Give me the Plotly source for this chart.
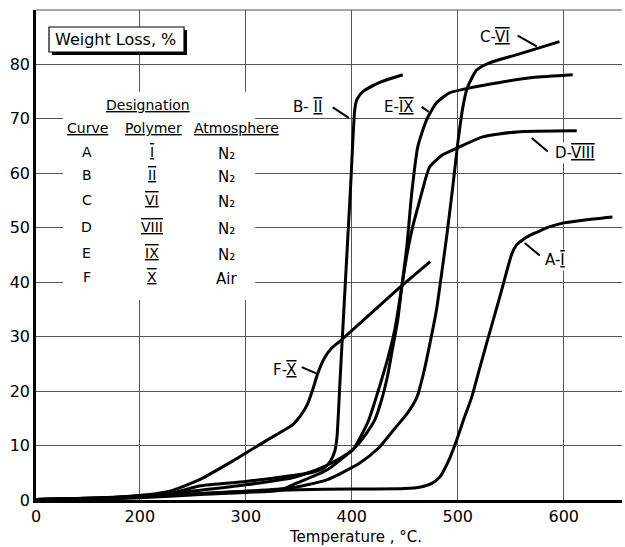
import plotly.graph_objects as go

# ---------------- data (temperature axis units, weight loss %) ----------------
A_T = [102, 150, 200, 260, 300, 350, 400, 450, 465, 475, 483, 492.5, 499, 506, 513.2, 520, 527.4, 534, 541.5, 551, 555.7, 562, 568, 577, 587, 600, 618, 646]
A_W = [0.1, 0.3, 0.6, 1.2, 1.6, 1.9, 2.0, 2.1, 2.4, 3.0, 4.2, 7.7, 11.0, 15.0, 18.9, 23.7, 28.9, 33.4, 38.6, 45.2, 46.9, 47.9, 48.6, 49.4, 50.2, 50.9, 51.4, 52.0]

B_T = [102, 150, 200, 231, 257, 300, 344, 363.2, 374, 380, 384, 386, 389, 394, 399, 402.8, 404.7, 410.4, 426.4, 448.1]
B_W = [0.1, 0.3, 0.8, 1.3, 2.6, 3.4, 4.5, 5.1, 5.9, 7.2, 9.0, 11.5, 22.3, 40.2, 58.0, 71.7, 73.5, 75.0, 76.7, 78.1]

C_T = [102, 150, 200, 257, 300, 341.5, 376.4, 407.5, 425, 440, 452, 461.3, 468, 474, 480, 484, 489.6, 495.3, 500, 504.7, 508.5, 514, 518, 530, 556, 596]
C_W = [0.1, 0.2, 0.5, 1.2, 1.6, 2.2, 3.7, 6.8, 9.5, 13.0, 15.8, 18.8, 23.5, 29.0, 35.0, 40.5, 48.5, 57.5, 65.5, 72.0, 75.4, 77.8, 79.0, 80.3, 81.8, 84.2]

D_T = [102, 150, 200, 257, 300, 344, 360.4, 380, 400.9, 408, 416, 422, 428, 434, 440.6, 447.2, 452, 457.5, 462, 466, 473.6, 485.8, 500, 523.6, 555.7, 612.3]
D_W = [0.1, 0.3, 0.6, 1.8, 2.8, 4.1, 5.1, 6.7, 9.2, 11.5, 14.7, 18.2, 22.0, 26.0, 31.3, 39.2, 45.0, 50.2, 53.5, 56.4, 61.2, 63.4, 64.7, 66.7, 67.6, 67.8]

E_T = [102, 150, 200, 257, 300, 332, 344.3, 376.4, 402.8, 414, 421.7, 428.3, 434, 437.7, 443.4, 447.2, 451.9, 456.6, 462.3, 470.8, 480.2, 492.5, 511.3, 539.6, 570.8, 608.5]
E_W = [0.1, 0.2, 0.4, 1.0, 1.4, 1.8, 2.8, 5.5, 9.6, 12.3, 14.7, 18.5, 23.0, 27.0, 33.1, 39.2, 46.5, 56.4, 64.9, 69.9, 73.0, 74.8, 75.7, 76.7, 77.6, 78.1]

F_T = [102, 160, 209, 228, 257, 288, 320, 344, 352, 358, 363, 368, 374, 381, 389, 445, 474]
F_W = [0.1, 0.3, 1.0, 1.6, 3.8, 7.2, 11.0, 13.8, 15.6, 17.5, 20.2, 23.3, 26.0, 27.9, 29.2, 39.0, 43.8]

X_TICKS = [102, 200, 300, 400, 500, 600]
X_TICK_TEXT = ["0", "200", "300", "400", "500", "600"]
Y_TICKS = [0, 10, 20, 30, 40, 50, 60, 70, 80]

ROWS_CURVE = ["A", "B", "C", "D", "E", "F"]
ROWS_POLYMER = ["I", "II", "VI", "VIII", "IX", "X"]
ROWS_ATMOS = ["N₂", "N₂", "N₂", "N₂", "N₂", "Air"]

FONT = "DejaVu Sans"


def roman(s):
    return '<span style="text-decoration:overline underline">' + s + '</span>'


def note(text, x, y, size=14, ref="paper", **kw):
    d = dict(text=text, x=x, y=y, showarrow=False, xanchor="center", yanchor="middle",
             font=dict(size=size, family=FONT, color="black"))
    if ref == "paper":
        d.update(xref="paper", yref="paper")
    d.update(kw)
    return d


fig = go.Figure()
for T, W in [(A_T, A_W), (B_T, B_W), (C_T, C_W), (D_T, D_W), (E_T, E_W), (F_T, F_W)]:
    fig.add_trace(go.Scatter(x=T, y=W, mode="lines",
                             line=dict(color="black", width=3, shape="spline", smoothing=0.6),
                             showlegend=False, hoverinfo="skip"))

shapes = []
annotations = []

# white region behind the designation table
shapes.append(dict(type="rect", xref="paper", yref="paper", x0=0.046, x1=0.374, y0=0.408, y1=0.833,
                   fillcolor="white", line=dict(width=0), layer="above"))
# top border line
shapes.append(dict(type="line", xref="paper", yref="paper", x0=0, x1=1, y0=1, y1=1,
                   line=dict(color="#555", width=1)))
# "Weight Loss, %" box with shadow
shapes.append(dict(type="rect", xref="paper", yref="paper", x0=0.0273, x1=0.2577, y0=0.9082, y1=0.9592,
                   fillcolor="black", line=dict(width=0), layer="above"))
shapes.append(dict(type="rect", xref="paper", yref="paper", x0=0.0222, x1=0.2526, y0=0.9143, y1=0.9653,
                   fillcolor="white", line=dict(color="black", width=1.2), layer="above"))
annotations.append(note("Weight Loss, %", 0.1365, 0.9398, size=16))

# designation table
annotations.append(note("<u>Designation</u>", 0.1911, 0.8061))
for txt, xp in [("<u>Curve</u>", 0.0887), ("<u>Polymer</u>", 0.1997), ("<u>Atmosphere</u>", 0.3430)]:
    annotations.append(note(txt, xp, 0.7592))
row_y = [0.7102, 0.6633, 0.6122, 0.5571, 0.5041, 0.4551]
for c, p, a, yp in zip(ROWS_CURVE, ROWS_POLYMER, ROWS_ATMOS, row_y):
    annotations.append(note(c, 0.0870, yp))
    annotations.append(note(roman(p), 0.1980, yp))
    annotations.append(note(a, 0.3259, yp - 0.004, size=15))

# curve labels with leader lines
labels = [
    ("B- " + roman("II"), 358.5, 72.1, (382.1, 72.1, 397.2, 70.2)),
    ("E-" + roman("IX"), 444.3, 72.1, (466.0, 72.2, 472.6, 71.3)),
    ("C-" + roman("VI"), 534.9, 85.1, (556.6, 85.3, 574.5, 83.3)),
    ("D-" + roman("VIII"), 610.4, 63.8, (569.8, 66.5, 584.9, 64.0)),
    ("A-" + roman("I"), 591.5, 44.1, (563.2, 47.2, 577.4, 44.9)),
    ("F-" + roman("X"), 336.8, 23.9, (352.8, 24.4, 367.0, 23.2)),
]
for txt, lx, ly, (x0, y0, x1, y1) in labels:
    annotations.append(note(txt, lx, ly, size=15, ref="data", bgcolor="white"))
    shapes.append(dict(type="line", x0=x0, y0=y0, x1=x1, y1=y1, line=dict(color="black", width=2)))

# x-axis title
annotations.append(note("Temperature , °C.", 0.546, -0.0755, size=15))

fig.update_layout(
    width=625, height=547,
    margin=dict(l=36, r=3, t=10, b=47),
    paper_bgcolor="white", plot_bgcolor="white",
    shapes=shapes, annotations=annotations,
    font=dict(family=FONT, color="black"),
)
fig.update_xaxes(range=[102, 655], tickvals=X_TICKS, ticktext=X_TICK_TEXT,
                 showgrid=True, gridcolor="#555", gridwidth=1,
                 showline=True, linecolor="black", linewidth=2.5,
                 zeroline=False, ticks="",
                 tickfont=dict(size=16, family=FONT, color="black"))
fig.update_yaxes(range=[0, 90], tickvals=Y_TICKS,
                 showgrid=True, gridcolor="#555", gridwidth=1,
                 showline=True, linecolor="black", linewidth=2.5,
                 zeroline=False, ticks="",
                 tickfont=dict(size=16, family=FONT, color="black"))

fig.write_html("out.html")
